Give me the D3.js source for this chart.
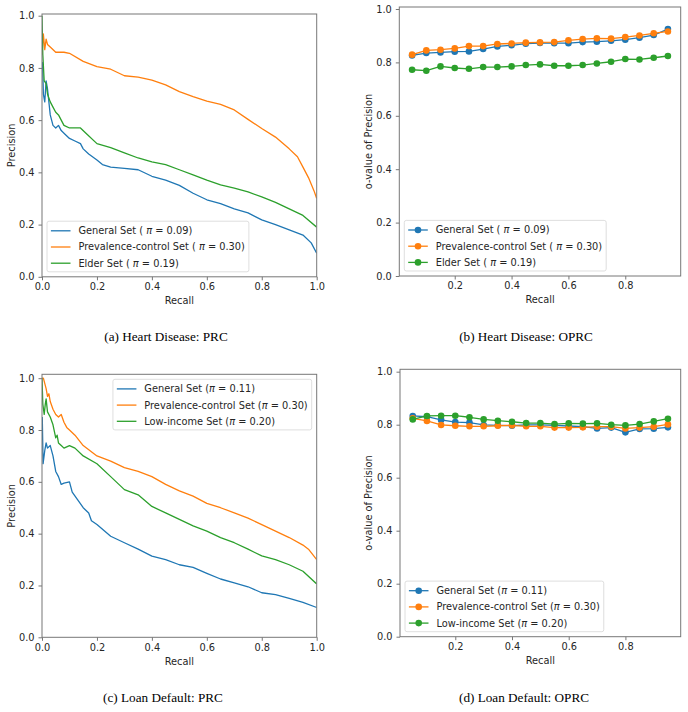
<!DOCTYPE html>
<html>
<head>
<meta charset="utf-8">
<script src="https://cdn.jsdelivr.net/npm/d3@7"></script>
<style>
  body { margin: 0; background: #fff; }
  text { font-family: "DejaVu Sans", sans-serif; fill: #262626; }
</style>
</head>
<body>
<script>
// ---- data ----

// (a) heart disease PRC
var heartGenR = [0, 0.002, 0.005, 0.01, 0.015, 0.02, 0.03, 0.04, 0.05, 0.06, 0.07, 0.08, 0.1, 0.12, 0.14, 0.15, 0.17, 0.2, 0.22, 0.25, 0.3, 0.35, 0.4, 0.45, 0.5, 0.55, 0.6, 0.65, 0.7, 0.75, 0.8, 0.85, 0.9, 0.95, 0.98, 1.0];
var heartGenP = [0.80, 0.82, 0.70, 0.67, 0.75, 0.72, 0.62, 0.58, 0.57, 0.58, 0.56, 0.55, 0.53, 0.52, 0.51, 0.49, 0.47, 0.447, 0.43, 0.42, 0.415, 0.41, 0.385, 0.37, 0.35, 0.32, 0.295, 0.28, 0.26, 0.245, 0.218, 0.20, 0.18, 0.16, 0.13, 0.09];
var heartPrevR = [0, 0.005, 0.01, 0.015, 0.02, 0.03, 0.05, 0.08, 0.1, 0.15, 0.2, 0.25, 0.3, 0.35, 0.4, 0.45, 0.5, 0.55, 0.6, 0.65, 0.7, 0.75, 0.8, 0.85, 0.9, 0.93, 0.95, 0.97, 0.99, 1.0];
var heartPrevP = [0.85, 0.93, 0.87, 0.91, 0.89, 0.88, 0.86, 0.86, 0.856, 0.825, 0.805, 0.795, 0.77, 0.765, 0.753, 0.735, 0.709, 0.69, 0.673, 0.66, 0.639, 0.603, 0.568, 0.535, 0.49, 0.46, 0.42, 0.38, 0.33, 0.30];
var heartElderR = [0, 0.003, 0.008, 0.015, 0.02, 0.03, 0.04, 0.05, 0.06, 0.08, 0.1, 0.12, 0.14, 0.16, 0.2, 0.25, 0.3, 0.35, 0.4, 0.45, 0.5, 0.55, 0.6, 0.65, 0.7, 0.75, 0.8, 0.85, 0.9, 0.95, 1.0];
var heartElderP = [1.0, 0.85, 0.75, 0.74, 0.70, 0.67, 0.65, 0.63, 0.62, 0.58, 0.57, 0.57, 0.57, 0.55, 0.51, 0.495, 0.475, 0.455, 0.44, 0.43, 0.41, 0.39, 0.37, 0.352, 0.34, 0.325, 0.306, 0.285, 0.26, 0.235, 0.19];

// (b) heart disease OPRC
var oprcRecall = [0.05, 0.1, 0.15, 0.2, 0.25, 0.3, 0.35, 0.4, 0.45, 0.5, 0.55, 0.6, 0.65, 0.7, 0.75, 0.8, 0.85, 0.9, 0.95];
var heartGenO = [0.826, 0.835, 0.8375, 0.84, 0.841, 0.85, 0.86, 0.864, 0.87, 0.8725, 0.872, 0.872, 0.876, 0.8775, 0.881, 0.885, 0.8925, 0.9025, 0.925];
var heartPrevO = [0.829, 0.845, 0.8475, 0.8525, 0.861, 0.861, 0.869, 0.871, 0.874, 0.875, 0.876, 0.8825, 0.8875, 0.89, 0.889, 0.895, 0.901, 0.909, 0.916];
var heartElderO = [0.7725, 0.769, 0.785, 0.779, 0.776, 0.7825, 0.7825, 0.785, 0.79, 0.7925, 0.7875, 0.7875, 0.79, 0.796, 0.8025, 0.8125, 0.811, 0.8175, 0.824];

// (c) loan default PRC
var loanGenR = [0.001, 0.004, 0.01, 0.015, 0.02, 0.03, 0.04, 0.05, 0.06, 0.07, 0.08, 0.1, 0.11, 0.13, 0.15, 0.17, 0.18, 0.2, 0.25, 0.3, 0.35, 0.4, 0.45, 0.5, 0.55, 0.6, 0.65, 0.7, 0.75, 0.8, 0.85, 0.9, 0.95, 1.0];
var loanGenP = [0.85, 0.67, 0.72, 0.75, 0.73, 0.74, 0.70, 0.64, 0.62, 0.59, 0.595, 0.60, 0.56, 0.53, 0.50, 0.48, 0.45, 0.435, 0.39, 0.365, 0.34, 0.313, 0.30, 0.28, 0.27, 0.247, 0.225, 0.21, 0.195, 0.172, 0.165, 0.15, 0.135, 0.115];
var loanPrevR = [0, 0.005, 0.01, 0.015, 0.02, 0.025, 0.03, 0.04, 0.05, 0.06, 0.07, 0.08, 0.09, 0.1, 0.12, 0.15, 0.2, 0.25, 0.3, 0.35, 0.4, 0.45, 0.5, 0.55, 0.6, 0.65, 0.7, 0.75, 0.8, 0.85, 0.9, 0.95, 0.97, 1.0];
var loanPrevP = [1.0, 1.0, 0.98, 0.96, 0.93, 0.94, 0.91, 0.88, 0.86, 0.85, 0.86, 0.83, 0.81, 0.80, 0.78, 0.74, 0.70, 0.68, 0.655, 0.64, 0.62, 0.59, 0.565, 0.545, 0.517, 0.50, 0.48, 0.46, 0.435, 0.41, 0.385, 0.356, 0.34, 0.30];
var loanLowR = [0, 0.003, 0.008, 0.012, 0.015, 0.02, 0.03, 0.04, 0.05, 0.055, 0.06, 0.07, 0.08, 0.1, 0.12, 0.15, 0.2, 0.25, 0.3, 0.35, 0.4, 0.45, 0.5, 0.55, 0.6, 0.65, 0.7, 0.75, 0.8, 0.85, 0.9, 0.95, 1.0];
var loanLowP = [1.0, 0.90, 0.86, 0.90, 0.92, 0.87, 0.85, 0.82, 0.77, 0.78, 0.75, 0.74, 0.73, 0.74, 0.73, 0.70, 0.67, 0.62, 0.57, 0.55, 0.505, 0.48, 0.455, 0.43, 0.41, 0.385, 0.365, 0.34, 0.314, 0.30, 0.28, 0.255, 0.206];

// (d) loan default OPRC
var loanGenO = [0.833, 0.830, 0.818, 0.81, 0.808, 0.799, 0.7975, 0.796, 0.799, 0.799, 0.7975, 0.795, 0.7925, 0.786, 0.789, 0.771, 0.784, 0.785, 0.79];
var loanPrevO = [0.824, 0.814, 0.799, 0.796, 0.794, 0.794, 0.796, 0.7975, 0.794, 0.794, 0.789, 0.789, 0.79, 0.7925, 0.7925, 0.786, 0.789, 0.7925, 0.801];
var loanLowO = [0.82, 0.833, 0.834, 0.834, 0.828, 0.82, 0.815, 0.811, 0.806, 0.806, 0.8025, 0.805, 0.804, 0.805, 0.80, 0.7975, 0.8025, 0.8125, 0.8225];

var yTicks = [0.0, 0.2, 0.4, 0.6, 0.8, 1.0];
var xTicksPrc = [0.0, 0.2, 0.4, 0.6, 0.8, 1.0];
var xTicksOprc = [0.2, 0.4, 0.6, 0.8];

var heartLabels = ["General Set ( |π| = 0.09)", "Prevalence-control Set ( |π| = 0.30)", "Elder Set ( |π| = 0.19)"];
var loanLabels = ["General Set (|π| = 0.11)", "Prevalence-control Set (|π| = 0.30)", "Low-income Set (|π| = 0.20)"];
var captions = ["(a) Heart Disease: PRC", "(b) Heart Disease: OPRC", "(c) Loan Default: PRC", "(d) Loan Default: OPRC"];

var colors = ["#1f77b4", "#ff7f0e", "#2ca02c"];

// ---- drawing ----
var svg = d3.select("body").append("svg")
  .attr("width", 688)
  .attr("height", 712);

var fs = 9.8;

function panel(p) {
  var x = d3.scaleLinear().domain(p.xdom).range([p.left, p.right]);
  var y = d3.scaleLinear().domain([0, p.ymax]).range([p.bottom, p.top]);
  var g = svg.append("g");
  var clipId = "clip" + p.id;

  g.append("clipPath").attr("id", clipId)
    .append("rect")
    .attr("x", p.left).attr("y", p.top)
    .attr("width", p.right - p.left).attr("height", p.bottom - p.top);

  var line = d3.line().x(d => x(d[0])).y(d => y(d[1]));
  var lines = g.append("g").attr("clip-path", "url(#" + clipId + ")");

  p.series.forEach(function(s, i) {
    var pts = d3.zip(s.r, s.v);
    lines.append("path")
      .attr("d", line(pts))
      .attr("fill", "none")
      .attr("stroke", colors[i])
      .attr("stroke-width", 1.3)
      .attr("stroke-linejoin", "round");
    if (p.markers) {
      lines.selectAll(null).data(pts).enter().append("circle")
        .attr("cx", d => x(d[0]))
        .attr("cy", d => y(d[1]))
        .attr("r", 3.3)
        .attr("fill", colors[i]);
    }
  });

  // axes
  var xa = g.append("g")
    .attr("transform", "translate(0," + p.bottom + ")")
    .call(d3.axisBottom(x).tickValues(p.xticks).tickFormat(d3.format(".1f")).tickSize(3.5).tickPadding(3));
  var ya = g.append("g")
    .attr("transform", "translate(" + p.left + ",0)")
    .call(d3.axisLeft(y).tickValues(yTicks).tickFormat(d3.format(".1f")).tickSize(3.5).tickPadding(4));
  [xa, ya].forEach(function(a) {
    a.select(".domain").remove();
    a.selectAll("line").attr("stroke", "#777");
    a.selectAll("text").attr("font-size", fs).style("font-family", "DejaVu Sans").style("fill", "#262626");
  });

  g.append("rect")
    .attr("x", p.left).attr("y", p.top)
    .attr("width", p.right - p.left).attr("height", p.bottom - p.top)
    .attr("fill", "none").attr("stroke", "#777").attr("stroke-width", 1);

  // axis labels
  g.append("text")
    .attr("x", (p.left + p.right) / 2).attr("y", p.bottom + 24)
    .attr("dy", "0.35em").attr("text-anchor", "middle")
    .attr("font-size", fs).text("Recall");
  g.append("text")
    .attr("transform", "translate(" + p.ylabX + "," + ((p.top + p.bottom) / 2) + ") rotate(-90)")
    .attr("dy", "0.35em").attr("text-anchor", "middle")
    .attr("font-size", fs).text(p.ylabel);

  // legend
  var leg = g.append("g");
  var box = leg.append("rect");
  var rowH = 16.2;
  var maxW = 0;
  p.labels.forEach(function(lab, i) {
    var cy = 9.6 + i * rowH;
    leg.append("line")
      .attr("x1", 3.9).attr("x2", 23.5).attr("y1", cy).attr("y2", cy)
      .attr("stroke", colors[i]).attr("stroke-width", 1.3);
    if (p.markers) {
      leg.append("circle").attr("cx", 13.7).attr("cy", cy).attr("r", 3.3).attr("fill", colors[i]);
    }
    var parts = lab.split("|");
    var t = leg.append("text")
      .attr("x", 31.4).attr("y", cy).attr("dy", "0.35em")
      .attr("font-size", fs);
    t.append("tspan").text(parts[0]);
    t.append("tspan").style("font-style", "italic").text(parts[1]);
    t.append("tspan").text(parts[2]);
    maxW = Math.max(maxW, t.node().getComputedTextLength());
  });
  var bw = 31.4 + maxW + 4;
  var bh = 9.6 + 2 * rowH + 8.6;
  box.attr("width", bw).attr("height", bh)
    .attr("rx", 2).attr("fill", "#fff").attr("fill-opacity", 0.8)
    .attr("stroke", "#d6d6d6").attr("stroke-width", 0.8);
  var lx, ly;
  if (p.legendPos === "ur") {
    lx = p.right - 5 - bw; ly = p.top + 5;
  } else {
    lx = p.left + 5; ly = p.bottom - 5 - bh;
  }
  leg.attr("transform", "translate(" + lx + "," + ly + ")");

  // caption
  g.append("text")
    .attr("x", p.capX).attr("y", p.capY).attr("dy", "0.35em")
    .attr("text-anchor", "middle")
    .style("font-family", "'Liberation Serif', serif").attr("font-size", 13.2)
    .style("fill", "#000")
    .text(p.caption);
}

panel({
  id: "a", left: 42, right: 316.7, top: 14, bottom: 276.8,
  xdom: [0, 1], ymax: 1.0065, xticks: xTicksPrc, markers: false,
  ylabel: "Precision", ylabX: 11.2, legendPos: "ll",
  series: [{r: heartGenR, v: heartGenP}, {r: heartPrevR, v: heartPrevP}, {r: heartElderR, v: heartElderP}],
  labels: heartLabels, caption: captions[0], capX: 166, capY: 336
});

panel({
  id: "b", left: 399.3, right: 680.7, top: 7, bottom: 276,
  xdom: [0.005, 0.995], ymax: 1.0075, xticks: xTicksOprc, markers: true,
  ylabel: "o-value of Precision", ylabX: 369, legendPos: "ll",
  series: [{r: oprcRecall, v: heartGenO}, {r: oprcRecall, v: heartPrevO}, {r: oprcRecall, v: heartElderO}],
  labels: heartLabels, caption: captions[1], capX: 526, capY: 336
});

panel({
  id: "c", left: 42, right: 316.7, top: 374.3, bottom: 637.3,
  xdom: [0, 1], ymax: 1.015, xticks: xTicksPrc, markers: false,
  ylabel: "Precision", ylabX: 11.2, legendPos: "ur",
  series: [{r: loanGenR, v: loanGenP}, {r: loanPrevR, v: loanPrevP}, {r: loanLowR, v: loanLowP}],
  labels: loanLabels, caption: captions[2], capX: 163, capY: 697
});

panel({
  id: "d", left: 400, right: 680.7, top: 369.3, bottom: 636.7,
  xdom: [0.005, 0.995], ymax: 1.009, xticks: xTicksOprc, markers: true,
  ylabel: "o-value of Precision", ylabX: 369, legendPos: "ll",
  series: [{r: oprcRecall, v: loanGenO}, {r: oprcRecall, v: loanPrevO}, {r: oprcRecall, v: loanLowO}],
  labels: loanLabels, caption: captions[3], capX: 524, capY: 697
});
</script>
</body>
</html>
